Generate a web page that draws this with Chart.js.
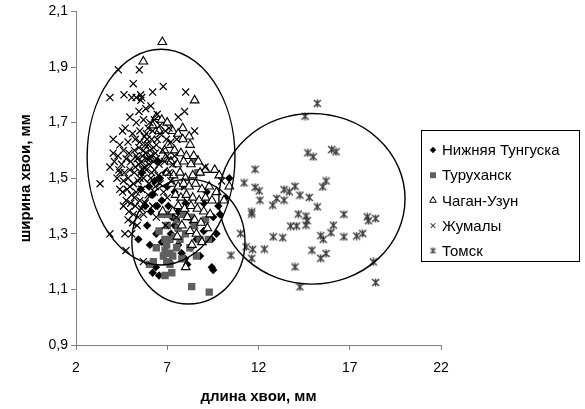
<!DOCTYPE html>
<html>
<head>
<meta charset="utf-8">
<script src="https://cdn.jsdelivr.net/npm/chart.js@4.4.0/dist/chart.umd.min.js"></script>
<style>
  html, body { margin: 0; padding: 0; background: #ffffff; }
  #wrap { width: 585px; height: 409px; }
</style>
</head>
<body>
<div id="wrap"><canvas id="c" width="585" height="409"></canvas></div>
<script>
// Series names (legend order)
const seriesNames = ['Нижняя Тунгуска', 'Туруханск', 'Чаган-Узун', 'Жумалы', 'Томск'];

// [длина хвои, ширина хвои] in mm
const nizhTunguska = [
  [5.55,1.46],[6.00,1.47],[6.30,1.49],[6.60,1.50],[6.90,1.52],[6.20,1.44],[6.70,1.42],[7.06,1.40],
  [7.40,1.45],[7.80,1.47],[6.45,1.40],[6.85,1.37],[7.25,1.36],[7.60,1.38],[8.00,1.41],[9.16,1.45],
  [9.52,1.36],[9.89,1.37],[10.40,1.50],[10.20,1.43],[9.80,1.40],[5.42,1.28],[6.05,1.26],[5.90,1.33],
  [6.40,1.30],[6.70,1.27],[7.20,1.30],[7.60,1.26],[7.79,1.23],[7.97,1.21],[8.30,1.25],[8.60,1.28],
  [9.00,1.31],[9.44,1.28],[9.70,1.30],[9.44,1.18],[9.52,1.17],[6.38,1.18],[6.20,1.16],[6.55,1.15],
  [7.10,1.20],[8.10,1.19],[8.80,1.22],[7.40,1.33],[8.40,1.34],[6.10,1.38],[5.80,1.40],[5.60,1.52],
  [6.50,1.56],[7.00,1.47],[9.00,1.41]
];
const turukhansk = [
  [6.70,1.37],[7.06,1.37],[7.88,1.37],[8.52,1.57],[8.68,1.52],[8.30,1.36],[7.50,1.35],[6.88,1.28],
  [7.15,1.28],[7.42,1.29],[7.70,1.28],[6.97,1.26],[6.88,1.24],[7.15,1.23],[6.79,1.22],[6.97,1.20],
  [7.15,1.19],[7.52,1.25],[8.24,1.25],[8.79,1.28],[9.25,1.28],[6.88,1.15],[8.34,1.11],[9.30,1.09],
  [6.24,1.20],[6.02,1.19],[7.30,1.22],[7.80,1.21],[8.00,1.30],[8.50,1.33],[7.60,1.32],[7.00,1.33],
  [6.55,1.31],[7.25,1.16],[8.60,1.22],[9.10,1.35],[6.40,1.25]
];
const chaganUzun = [
  [6.73,1.99],[5.69,1.92],[8.50,1.78],[7.85,1.68],[8.20,1.65],[6.40,1.72],[6.70,1.71],[7.00,1.70],
  [6.20,1.69],[6.55,1.67],[7.30,1.67],[7.60,1.66],[7.85,1.64],[8.25,1.62],[7.05,1.62],[6.85,1.60],
  [7.40,1.60],[7.75,1.59],[8.05,1.58],[8.45,1.58],[6.90,1.57],[7.20,1.56],[7.55,1.55],[7.90,1.56],
  [8.30,1.55],[8.70,1.56],[9.10,1.53],[7.00,1.52],[7.35,1.51],[7.70,1.52],[8.00,1.50],[8.40,1.51],
  [8.80,1.52],[9.60,1.53],[9.85,1.51],[7.25,1.48],[7.60,1.47],[7.90,1.48],[8.20,1.47],[8.55,1.48],
  [8.90,1.46],[9.30,1.47],[9.70,1.45],[10.40,1.47],[7.45,1.44],[7.75,1.43],[8.05,1.44],[8.40,1.43],
  [8.75,1.42],[9.10,1.43],[9.45,1.42],[10.11,1.42],[7.60,1.40],[7.95,1.39],[8.30,1.40],[8.65,1.39],
  [9.00,1.38],[9.35,1.37],[7.30,1.38],[6.75,1.38],[8.10,1.36],[8.50,1.35],[8.85,1.34],[7.80,1.33],
  [8.25,1.31],[8.60,1.30],[7.55,1.29],[8.90,1.27],[8.01,1.18],[9.20,1.32],[8.35,1.26]
];
const zhumaly = [
  [4.32,1.89],[5.47,1.89],[5.14,1.84],[3.86,1.79],[4.63,1.80],[5.05,1.79],[5.54,1.80],[5.60,1.79],
  [6.20,1.81],[6.78,1.83],[8.01,1.81],[5.45,1.74],[5.82,1.75],[6.10,1.76],[6.45,1.73],[4.95,1.72],
  [5.30,1.70],[5.70,1.71],[6.05,1.70],[6.30,1.71],[7.60,1.72],[7.95,1.74],[8.50,1.67],[7.52,1.64],
  [4.70,1.68],[4.55,1.67],[5.10,1.66],[5.50,1.67],[5.95,1.68],[6.60,1.66],[6.90,1.67],[4.04,1.64],
  [4.40,1.62],[4.85,1.63],[5.25,1.64],[5.75,1.65],[6.15,1.64],[6.40,1.62],[7.20,1.63],[4.04,1.59],
  [4.30,1.58],[4.60,1.60],[4.90,1.59],[5.20,1.60],[5.45,1.61],[5.80,1.62],[6.05,1.60],[6.35,1.59],
  [6.75,1.60],[7.00,1.58],[7.40,1.58],[3.86,1.54],[4.10,1.56],[4.50,1.55],[4.75,1.57],[5.00,1.56],
  [5.35,1.57],[5.65,1.58],[5.90,1.57],[6.25,1.56],[6.55,1.55],[6.85,1.56],[7.30,1.55],[9.07,1.54],
  [3.32,1.48],[4.41,1.52],[4.35,1.53],[4.65,1.52],[4.95,1.53],[5.25,1.54],[5.55,1.52],[5.85,1.53],
  [6.15,1.52],[6.50,1.51],[7.10,1.52],[9.98,1.49],[4.25,1.50],[4.60,1.49],[4.85,1.50],[5.15,1.48],
  [5.40,1.49],[5.70,1.50],[6.00,1.48],[6.35,1.47],[4.55,1.45],[4.80,1.46],[5.05,1.44],[5.30,1.45],
  [5.60,1.46],[5.95,1.44],[6.30,1.45],[4.75,1.42],[5.00,1.41],[5.25,1.40],[5.50,1.42],[5.80,1.41],
  [6.20,1.40],[4.90,1.38],[5.15,1.37],[5.40,1.36],[5.70,1.37],[6.40,1.36],[5.10,1.34],[5.35,1.33],
  [6.90,1.33],[7.50,1.36],[3.86,1.30],[4.68,1.30],[4.74,1.24],[5.69,1.20],[5.50,1.63],[5.70,1.60],
  [5.95,1.62],[6.10,1.58],[5.80,1.59],[6.25,1.61],[5.60,1.56],[6.00,1.55],[6.40,1.57],[5.30,1.58],
  [5.85,1.66],[6.20,1.67],[6.45,1.64],[5.20,1.52],[5.50,1.50],[5.75,1.54],[6.10,1.50],[4.40,1.46],
  [4.60,1.40],[4.85,1.35],[5.05,1.30],[6.60,1.48],[6.80,1.45],[7.00,1.43],[7.20,1.49],[6.95,1.64],
  [7.10,1.68],[6.60,1.69],[5.30,1.79],[5.55,1.78],[5.90,1.64],[6.05,1.57],[5.65,1.53],[6.30,1.53],
  [5.45,1.55],[4.95,1.47],[5.20,1.43],[5.60,1.39]
];
const tomsk = [
  [15.22,1.769],[14.55,1.723],[14.70,1.591],[15.00,1.577],[16.01,1.603],[16.25,1.595],[11.81,1.532],
  [11.21,1.483],[11.81,1.467],[12.04,1.454],[12.08,1.421],[13.40,1.459],[13.69,1.451],[14.00,1.471],
  [14.27,1.439],[14.78,1.431],[15.70,1.490],[15.52,1.469],[13.00,1.427],[12.78,1.403],[13.40,1.421],
  [15.22,1.397],[11.63,1.379],[11.63,1.371],[14.18,1.371],[14.60,1.364],[14.67,1.347],[14.60,1.331],
  [13.76,1.328],[14.09,1.328],[16.68,1.370],[17.96,1.361],[18.02,1.347],[18.42,1.355],[16.10,1.331],
  [15.97,1.304],[15.41,1.293],[15.55,1.280],[16.68,1.289],[17.38,1.292],[17.71,1.301],[12.81,1.289],
  [13.33,1.286],[11.02,1.301],[11.32,1.253],[11.68,1.244],[12.32,1.245],[10.49,1.223],[11.63,1.212],
  [14.93,1.241],[15.70,1.229],[15.41,1.212],[14.00,1.181],[18.29,1.199],[14.27,1.109],[18.42,1.125]
];

// Axis ticks and their labels
const xTicks = [2, 7, 12, 17, 22];
const xTickLabels = ['2', '7', '12', '17', '22'];
const yTicks = [0.9, 1.1, 1.3, 1.5, 1.7, 1.9, 2.1];
const yTickLabels = ['0,9', '1,1', '1,3', '1,5', '1,7', '1,9', '2,1'];

// Group ellipses in data units: centre [x, y] and semi-axes [x, y]
const ellipseCenters = [[6.66, 1.576], [8.16, 1.272], [14.93, 1.426]];
const ellipseRadii = [[4.05, 0.388], [3.10, 0.2246], [5.10, 0.307]];

// Asterisk-like marker for Томск: a cross with a vertical stroke
function makeStarMarker(size, color, lw) {
  const cv = document.createElement('canvas');
  cv.width = size; cv.height = size;
  const g = cv.getContext('2d');
  g.strokeStyle = color; g.lineWidth = lw;
  const a = 1, b = size - 1, m = size / 2;
  g.beginPath();
  g.moveTo(a, a); g.lineTo(b, b);
  g.moveTo(b, a); g.lineTo(a, b);
  g.moveTo(m, 0.5); g.lineTo(m, size - 0.5);
  g.stroke();
  return cv;
}
const tomskMarker = makeStarMarker(9, '#3a3a3a', 1.4);
const tomskLegendMarker = makeStarMarker(7, '#404040', 1.1);

const toPts = arr => arr.map(p => ({ x: p[0], y: p[1] }));

const styles = [
  { pointStyle: 'rectRot', radius: 4.2, backgroundColor: '#000000', borderColor: '#000000', borderWidth: 0 },
  { pointStyle: 'rect', radius: 5.2, backgroundColor: '#5f5f5f', borderColor: '#5f5f5f', borderWidth: 0 },
  { pointStyle: 'triangle', radius: 5, backgroundColor: '#ffffff', borderColor: '#000000', borderWidth: 1.1 },
  { pointStyle: 'crossRot', radius: 5, backgroundColor: '#000000', borderColor: '#000000', borderWidth: 1.2 },
  { pointStyle: tomskMarker, radius: 4.5, backgroundColor: '#3a3a3a', borderColor: '#3a3a3a', borderWidth: 1 }
];
const legendStyles = [
  { pointStyle: 'rectRot', radius: 3.2, fill: '#000000', stroke: '#000000', lw: 0 },
  { pointStyle: 'rect', radius: 4.2, fill: '#5f5f5f', stroke: '#5f5f5f', lw: 0 },
  { pointStyle: 'triangle', radius: 3.8, fill: '#ffffff', stroke: '#000000', lw: 1 },
  { pointStyle: 'crossRot', radius: 3.4, fill: '#000000', stroke: '#000000', lw: 1 },
  { pointStyle: tomskLegendMarker, radius: 3.5, fill: '#404040', stroke: '#404040', lw: 1 }
];
const seriesData = [nizhTunguska, turukhansk, chaganUzun, zhumaly, tomsk];

const datasets = seriesData.map((d, i) => ({
  label: seriesNames[i],
  data: toPts(d),
  pointStyle: styles[i].pointStyle,
  pointRadius: styles[i].radius,
  pointBackgroundColor: styles[i].backgroundColor,
  pointBorderColor: styles[i].borderColor,
  pointBorderWidth: styles[i].borderWidth,
  pointHoverRadius: styles[i].radius,
  showLine: false,
  order: seriesNames.length - 1 - i
}));

// Ellipses drawn through the chart's own scales
const ellipsePlugin = {
  id: 'groupEllipses',
  afterDatasetsDraw(chart) {
    const { ctx, scales: { x, y } } = chart;
    ctx.save();
    ctx.strokeStyle = '#000000';
    ctx.lineWidth = 1.4;
    ellipseCenters.forEach((c, i) => {
      const px = x.getPixelForValue(c[0]);
      const py = y.getPixelForValue(c[1]);
      const rx = Math.abs(x.getPixelForValue(c[0] + ellipseRadii[i][0]) - px);
      const ry = Math.abs(y.getPixelForValue(c[1] + ellipseRadii[i][1]) - py);
      ctx.beginPath();
      ctx.ellipse(px, py, rx, ry, 0, 0, Math.PI * 2);
      ctx.stroke();
    });
    ctx.restore();
  }
};

// Boxed legend to the right of the plot
const boxLegendPlugin = {
  id: 'boxLegend',
  afterDraw(chart) {
    const { ctx } = chart;
    const left = 421, top = 130, w = 158, h = 131;
    ctx.save();
    ctx.fillStyle = '#ffffff';
    ctx.fillRect(left, top, w, h);
    ctx.strokeStyle = '#000000';
    ctx.lineWidth = 1;
    ctx.strokeRect(left + 0.5, top + 0.5, w, h);
    ctx.font = '15px "Liberation Sans", Arial, sans-serif';
    ctx.textBaseline = 'middle';
    ctx.textAlign = 'left';
    seriesNames.forEach((name, i) => {
      const yy = top + 20 + i * 25.2;
      const st = legendStyles[i];
      ctx.fillStyle = st.fill;
      ctx.strokeStyle = st.stroke;
      ctx.lineWidth = st.lw;
      Chart.helpers.drawPoint(ctx, { pointStyle: st.pointStyle, radius: st.radius, rotation: 0, borderWidth: st.lw }, 433, yy);
      ctx.fillStyle = '#000000';
      ctx.fillText(name, 442, yy + 1);
    });
    ctx.restore();
  }
};

const axisColor = '#808080';
const tickFont = { family: '"Liberation Sans", Arial, sans-serif', size: 14 };
const titleFont = { family: '"Liberation Sans", Arial, sans-serif', size: 15, weight: 'bold' };

new Chart(document.getElementById('c'), {
  type: 'scatter',
  data: { datasets },
  options: {
    responsive: false,
    animation: false,
    devicePixelRatio: 1,
    layout: { padding: { left: 0, right: 144, top: 11, bottom: 0 } },
    plugins: { legend: { display: false }, tooltip: { enabled: false } },
    scales: {
      x: {
        type: 'linear',
        min: 2, max: 22,
        afterBuildTicks: s => { s.ticks = xTicks.map(v => ({ value: v })); },
        afterFit: s => { s.height = 64; },
        ticks: {
          color: '#000000', font: tickFont, padding: 10, maxRotation: 0,
          callback: (v, i) => xTickLabels[i]
        },
        grid: { display: true, drawOnChartArea: false, drawTicks: true, tickLength: 5, color: axisColor, lineWidth: 1 },
        border: { color: axisColor, width: 1 },
        title: { display: true, text: 'длина хвои, мм', color: '#000000', font: titleFont, padding: { top: 0, bottom: 3 } }
      },
      y: {
        type: 'linear',
        min: 0.9, max: 2.1,
        afterBuildTicks: s => { s.ticks = yTicks.map(v => ({ value: v })); },
        afterFit: s => { s.width = 76; },
        ticks: {
          color: '#000000', font: tickFont, padding: 3,
          callback: (v, i) => yTickLabels[i]
        },
        grid: { display: true, drawOnChartArea: false, drawTicks: true, tickLength: 5, color: axisColor, lineWidth: 1 },
        border: { color: axisColor, width: 1 },
        title: { display: true, text: 'ширина хвои, мм', color: '#000000', font: titleFont, padding: { top: 17, bottom: 0 } }
      }
    }
  },
  plugins: [ellipsePlugin, boxLegendPlugin]
});
</script>
</body>
</html>
